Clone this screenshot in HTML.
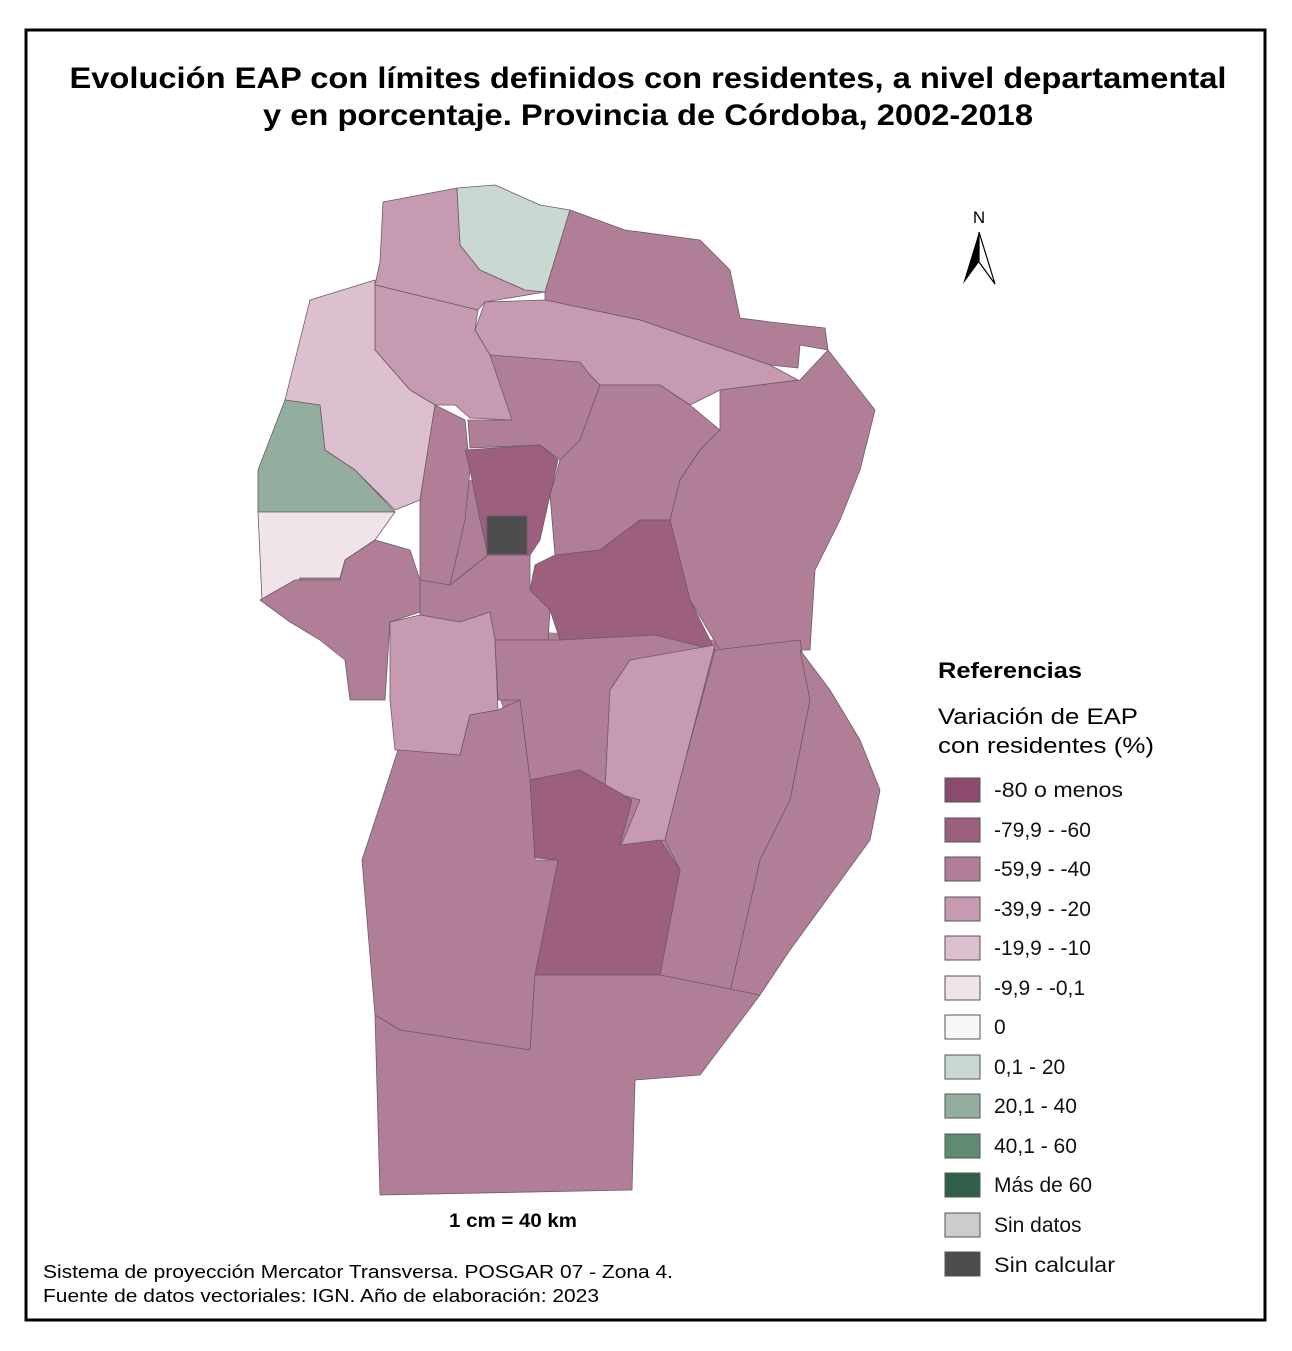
<!DOCTYPE html>
<html><head><meta charset="utf-8"><style>
body{margin:0;background:#fff;width:1292px;height:1346px;overflow:hidden;font-family:"Liberation Sans",sans-serif}
</style></head><body>
<svg width="1292" height="1346" viewBox="0 0 1292 1346" xmlns="http://www.w3.org/2000/svg" font-family="Liberation Sans, sans-serif">
<rect x="0" y="0" width="1292" height="1346" fill="#fff"/>
<rect x="26" y="30" width="1239" height="1290" fill="none" stroke="#000" stroke-width="3"/>
<text x="648" y="88" font-size="30" font-weight="bold" text-anchor="middle" textLength="1157" lengthAdjust="spacingAndGlyphs">Evolución EAP con límites definidos con residentes, a nivel departamental</text>
<text x="648" y="125" font-size="30" font-weight="bold" text-anchor="middle" textLength="770" lengthAdjust="spacingAndGlyphs">y en porcentaje. Provincia de Córdoba, 2002-2018</text>
<g stroke="#6e5a64" stroke-width="0.8" stroke-linejoin="round">
<path fill="#b07e97" stroke="none" d="M495,630 L720,640 L680,870 L620,860 L530,790 L500,700 Z"/>
<path fill="#b07e97" stroke="none" d="M290,575 L345,575 L345,600 L290,600 Z"/>
<path fill="#b07e97" stroke="none" d="M440,480 L500,480 L500,600 L440,600 Z"/>
<path fill="#c69ab0" d="M383,202 L457,188 L460,245 L480,270 L525,290 L545,292 L485,302 L478,310 L375,285 L380,262 Z"/>
<path fill="#c9d8d0" d="M457,188 L495,185 L540,205 L570,210 L545,292 L525,290 L480,270 L460,245 Z"/>
<path fill="#b07e97" d="M570,210 L625,230 L700,240 L730,270 L740,318 L770,322 L825,328 L828,350 L800,345 L798,368 L770,365 L640,320 L545,300 L545,292 Z"/>
<path fill="#c69ab0" d="M485,302 L545,300 L640,320 L770,365 L798,380 L720,390 L690,405 L660,385 L600,385 L590,375 L520,362 L490,355 L475,330 Z"/>
<path fill="#c69ab0" d="M375,285 L478,310 L475,330 L490,355 L520,362 L512,420 L470,418 L455,405 L435,405 L410,390 L375,350 Z"/>
<path fill="#dcc0cf" d="M310,300 L375,280 L375,350 L410,390 L435,405 L420,500 L395,510 L355,470 L325,450 L320,405 L285,400 Z"/>
<path fill="#93ae9f" d="M285,400 L320,405 L325,450 L355,470 L395,512 L258,512 L258,470 Z"/>
<path fill="#efe4ea" d="M258,512 L395,512 L375,540 L345,560 L340,578 L300,578 L288,600 L262,600 Z"/>
<path fill="#b07e97" d="M435,405 L465,420 L470,470 L465,520 L450,585 L430,590 L420,580 L420,500 Z"/>
<path fill="#b07e97" d="M490,355 L580,362 L590,375 L600,385 L580,440 L560,460 L540,445 L470,448 L468,420 L512,420 Z"/>
<path fill="#9c5f7d" d="M465,450 L540,445 L558,460 L550,495 L540,540 L530,555 L488,555 L480,520 L470,470 Z"/>
<path fill="#b07e97" d="M600,385 L660,385 L690,405 L720,430 L700,450 L680,480 L670,520 L640,520 L600,550 L555,555 L550,495 L560,460 L580,440 Z"/>
<path fill="#b07e97" d="M720,390 L800,380 L828,350 L875,410 L860,470 L840,520 L815,570 L810,650 L720,650 L690,600 L670,520 L680,480 L700,450 L720,430 Z"/>
<path fill="#9c5f7d" d="M555,555 L600,550 L640,520 L670,520 L690,600 L715,650 L680,645 L655,635 L560,640 L550,610 L530,590 L535,565 Z"/>
<path fill="#b07e97" d="M260,600 L295,580 L340,580 L345,560 L375,540 L410,550 L420,580 L420,612 L390,622 L385,700 L350,700 L345,660 L320,640 L290,622 Z"/>
<path fill="#b07e97" d="M420,580 L450,585 L488,555 L530,555 L530,590 L550,610 L548,640 L495,640 L490,615 L460,622 L420,615 Z"/>
<path fill="#c69ab0" d="M390,622 L420,615 L460,622 L490,612 L495,640 L498,710 L470,715 L460,755 L395,750 L390,700 Z"/>
<path fill="#b07e97" d="M495,640 L560,640 L655,635 L715,650 L630,660 L610,690 L605,790 L580,770 L530,780 L520,700 L498,700 Z"/>
<path fill="#c69ab0" d="M610,690 L630,660 L715,645 L680,780 L665,840 L620,848 L640,800 L605,790 Z"/>
<path fill="#b07e97" d="M715,650 L800,640 L810,700 L790,800 L760,860 L730,992 L660,975 L680,870 L665,840 L680,780 Z"/>
<path fill="#b07e97" d="M800,650 L830,690 L860,740 L880,790 L870,840 L790,950 L760,995 L730,992 L760,860 L790,800 L810,700 Z"/>
<path fill="#b07e97" d="M398,750 L460,755 L470,715 L498,710 L520,700 L530,780 L535,860 L560,860 L535,975 L530,1050 L400,1030 L375,1015 L362,860 L385,790 Z"/>
<path fill="#9c5f7d" d="M530,780 L580,770 L632,800 L620,845 L660,840 L680,870 L660,975 L535,975 L558,860 L535,858 Z"/>
<path fill="#b07e97" d="M375,1015 L400,1030 L530,1050 L535,975 L660,975 L760,995 L700,1075 L635,1080 L632,1190 L380,1195 Z"/>
<rect x="487" y="516" width="40" height="38" fill="#4d4d4d"/>
</g>
<text x="979" y="223" font-size="17" text-anchor="middle">N</text>
<path d="M979,232 L963,284 L979,262 Z" fill="#000"/>
<path d="M979,232 L995,284 L979,262 Z" fill="#fff" stroke="#000" stroke-width="1.2"/>
<text x="938" y="678" font-size="22" font-weight="bold" textLength="144" lengthAdjust="spacingAndGlyphs">Referencias</text>
<text x="938" y="724" font-size="22" textLength="200" lengthAdjust="spacingAndGlyphs">Variación de EAP</text>
<text x="938" y="753" font-size="22" textLength="216" lengthAdjust="spacingAndGlyphs">con residentes (%)</text>
<g stroke="#555" stroke-width="1">
<rect x="945" y="778" width="35" height="24" fill="#8b4a6e"/>
<rect x="945" y="818" width="35" height="24" fill="#9c5f7d"/>
<rect x="945" y="857" width="35" height="24" fill="#b07e97"/>
<rect x="945" y="897" width="35" height="24" fill="#c69ab0"/>
<rect x="945" y="936" width="35" height="24" fill="#dcc0cf"/>
<rect x="945" y="976" width="35" height="24" fill="#efe4ea"/>
<rect x="945" y="1015" width="35" height="24" fill="#f8f6f8"/>
<rect x="945" y="1055" width="35" height="24" fill="#c9d8d0"/>
<rect x="945" y="1094" width="35" height="24" fill="#93ae9f"/>
<rect x="945" y="1134" width="35" height="24" fill="#5f8a73"/>
<rect x="945" y="1173" width="35" height="24" fill="#2f5e4a"/>
<rect x="945" y="1213" width="35" height="24" fill="#cccccc"/>
<rect x="945" y="1252" width="35" height="24" fill="#4d4d4d"/>
</g>
<g font-size="21" fill="#111">
<text x="994" y="797" textLength="129" lengthAdjust="spacingAndGlyphs">-80 o menos</text>
<text x="994" y="837">-79,9 - -60</text>
<text x="994" y="876">-59,9 - -40</text>
<text x="994" y="916">-39,9 - -20</text>
<text x="994" y="955">-19,9 - -10</text>
<text x="994" y="995">-9,9 - -0,1</text>
<text x="994" y="1034">0</text>
<text x="994" y="1074">0,1 - 20</text>
<text x="994" y="1113">20,1 - 40</text>
<text x="994" y="1153">40,1 - 60</text>
<text x="994" y="1192">Más de 60</text>
<text x="994" y="1232">Sin datos</text>
<text x="994" y="1272" textLength="121" lengthAdjust="spacingAndGlyphs">Sin calcular</text>
</g>
<text x="513" y="1227" font-size="19" font-weight="bold" text-anchor="middle" textLength="128" lengthAdjust="spacingAndGlyphs">1 cm = 40 km</text>
<text x="43" y="1278" font-size="18" textLength="630" lengthAdjust="spacingAndGlyphs">Sistema de proyección Mercator Transversa. POSGAR 07 - Zona 4.</text>
<text x="43" y="1302" font-size="18" textLength="556" lengthAdjust="spacingAndGlyphs">Fuente de datos vectoriales: IGN. Año de elaboración: 2023</text>
</svg>
</body></html>
